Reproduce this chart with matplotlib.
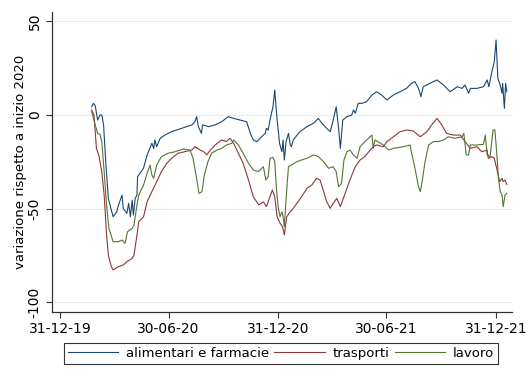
import pandas as pd
import matplotlib
matplotlib.use("Agg")
import matplotlib.pyplot as plt

# alimentari e farmacie
date_alim = ["2020-02-22", "2020-02-25", "2020-02-28", "2020-03-03", "2020-03-07", "2020-03-10",
             "2020-03-13", "2020-03-17", "2020-03-21", "2020-03-29", "2020-04-04", "2020-04-07",
             "2020-04-13", "2020-04-15", "2020-04-21", "2020-04-24", "2020-04-27", "2020-04-30",
             "2020-05-02", "2020-05-05", "2020-05-08", "2020-05-09", "2020-05-13", "2020-05-19",
             "2020-05-25", "2020-06-02", "2020-06-05", "2020-06-07", "2020-06-10", "2020-06-16",
             "2020-06-24", "2020-07-05", "2020-07-22", "2020-08-08", "2020-08-13", "2020-08-16",
             "2020-08-19", "2020-08-24", "2020-08-26", "2020-09-05", "2020-09-16", "2020-09-27",
             "2020-10-08", "2020-10-17", "2020-10-28", "2020-11-08", "2020-11-14", "2020-11-19",
             "2020-11-25", "2020-12-03", "2020-12-09", "2020-12-11", "2020-12-14", "2020-12-17",
             "2020-12-22", "2020-12-25", "2020-12-28", "2021-01-02", "2021-01-06", "2021-01-08",
             "2021-01-10", "2021-01-13", "2021-01-17", "2021-01-20", "2021-01-22", "2021-01-25",
             "2021-02-05", "2021-02-17", "2021-02-28", "2021-03-08", "2021-03-14", "2021-03-22",
             "2021-03-28", "2021-04-02", "2021-04-07", "2021-04-11", "2021-04-14", "2021-04-18",
             "2021-04-25", "2021-05-03", "2021-05-06", "2021-05-09", "2021-05-14", "2021-05-20",
             "2021-05-28", "2021-06-06", "2021-06-10", "2021-06-14", "2021-06-22", "2021-07-01",
             "2021-07-12", "2021-07-23", "2021-08-03", "2021-08-11", "2021-08-17", "2021-08-23",
             "2021-08-27", "2021-08-31", "2021-09-11", "2021-09-23", "2021-10-04", "2021-10-15",
             "2021-10-27", "2021-11-04", "2021-11-09", "2021-11-15", "2021-11-18", "2021-11-29",
             "2021-12-10", "2021-12-16", "2021-12-19", "2021-12-24", "2021-12-28", "2021-12-31",
             "2022-01-03", "2022-01-07", "2022-01-10", "2022-01-11", "2022-01-14", "2022-01-16",
             "2022-01-18"]
alimentari = [4.4, 6.2, 5.0, -2.7, 0.0, 0.0,
              -5.3, -26.7, -44.5, -54.3, -51.6, -48.0,
              -42.7, -49.8, -52.5, -47.1, -54.3, -45.4,
              -53.4, -44.5, -42.7, -32.9, -31.1, -28.4,
              -21.3, -15.1, -17.8, -13.3, -16.9, -12.4,
              -10.7, -8.9, -7.1, -5.3, -3.6, -0.9,
              -6.2, -9.8, -5.3, -6.2, -5.3, -3.6,
              -0.9, -1.8, -2.7, -3.6, -9.8, -13.3,
              -14.2, -11.6, -9.8, -7.1, -8.0, -2.7,
              4.4, 13.3, 0.9, -15.1, -19.6, -13.3,
              -24.0, -14.2, -9.8, -16.0, -16.9, -13.3,
              -8.9, -6.2, -4.4, -1.8, -4.4, -7.1,
              -8.9, -2.7, 4.4, -7.1, -17.8, -2.7,
              -0.9, 0.0, 2.7, 0.9, 6.2, 6.2,
              7.1, 10.7, 11.6, 12.4, 10.7, 8.0,
              10.7, 12.4, 14.2, 16.9, 17.8, 14.2,
              9.8, 15.1, 16.9, 18.7, 16.0, 12.4,
              15.1, 14.2, 16.0, 11.6, 14.2, 14.2,
              15.1, 18.7, 15.1, 23.1, 28.4, 40.0,
              19.6, 16.0, 11.6, 16.9, 3.6, 16.9,
              12.4]

# trasporti
date_trasp = ["2020-02-22", "2020-02-26", "2020-03-01", "2020-03-05", "2020-03-10", "2020-03-14",
              "2020-03-18", "2020-03-21", "2020-03-26", "2020-03-29", "2020-04-07", "2020-04-15",
              "2020-04-21", "2020-04-30", "2020-05-03", "2020-05-08", "2020-05-11", "2020-05-19",
              "2020-05-25", "2020-06-02", "2020-06-10", "2020-06-18", "2020-06-27", "2020-07-05",
              "2020-07-16", "2020-07-27", "2020-08-08", "2020-08-13", "2020-08-22", "2020-08-28",
              "2020-09-02", "2020-09-08", "2020-09-16", "2020-09-27", "2020-10-05", "2020-10-11",
              "2020-10-17", "2020-10-25", "2020-11-02", "2020-11-11", "2020-11-19", "2020-11-28",
              "2020-12-06", "2020-12-11", "2020-12-17", "2020-12-21", "2020-12-25", "2020-12-29",
              "2021-01-03", "2021-01-07", "2021-01-10", "2021-01-14", "2021-01-20", "2021-01-25",
              "2021-01-31", "2021-02-08", "2021-02-17", "2021-02-25", "2021-03-05", "2021-03-11",
              "2021-03-17", "2021-03-22", "2021-03-28", "2021-04-02", "2021-04-08", "2021-04-14",
              "2021-04-22", "2021-04-30", "2021-05-09", "2021-05-17", "2021-05-25", "2021-06-03",
              "2021-06-08", "2021-06-14", "2021-06-25", "2021-07-01", "2021-07-12", "2021-07-23",
              "2021-08-03", "2021-08-14", "2021-08-26", "2021-09-06", "2021-09-14", "2021-09-23",
              "2021-10-01", "2021-10-09", "2021-10-20", "2021-11-01", "2021-11-09", "2021-11-18",
              "2021-11-29", "2021-12-07", "2021-12-16", "2021-12-18", "2021-12-24", "2021-12-28",
              "2022-01-01", "2022-01-06", "2022-01-10", "2022-01-12", "2022-01-15", "2022-01-18"]
trasporti = [2.7, 0.0, -17.8, -21.3, -30.2, -42.7,
             -64.0, -74.7, -80.9, -82.7, -80.9, -80.0,
             -78.3, -76.5, -74.7, -64.0, -56.9, -54.3,
             -46.3, -40.9, -35.6, -30.2, -25.8, -23.1,
             -20.4, -19.6, -18.7, -16.9, -18.7, -19.6,
             -21.3, -18.7, -16.0, -13.3, -14.2, -12.4,
             -15.1, -20.4, -25.8, -34.7, -43.6, -48.0,
             -46.3, -48.9, -43.6, -40.0, -43.6, -54.3,
             -57.8, -59.6, -64.0, -54.3, -51.6, -49.8,
             -47.1, -43.6, -39.1, -37.4, -33.8, -34.7,
             -40.9, -46.3, -49.8, -47.1, -44.5, -48.9,
             -41.8, -34.7, -27.6, -24.0, -22.2, -18.7,
             -16.9, -16.0, -16.9, -14.2, -11.6, -8.9,
             -8.0, -8.5, -11.6, -8.9, -5.3, -1.8,
             -5.3, -9.8, -10.7, -10.7, -14.2, -17.8,
             -16.9, -19.6, -18.7, -23.1, -22.2, -23.1,
             -28.4, -35.6, -33.8, -35.6, -34.7, -37.0]

# lavoro
date_lavoro = ["2020-02-22", "2020-02-28", "2020-03-03", "2020-03-07", "2020-03-10", "2020-03-14",
               "2020-03-18", "2020-03-22", "2020-03-29", "2020-04-07", "2020-04-13", "2020-04-18",
               "2020-04-22", "2020-04-30", "2020-05-03", "2020-05-08", "2020-05-11", "2020-05-19",
               "2020-05-25", "2020-05-30", "2020-06-02", "2020-06-05", "2020-06-10", "2020-06-18",
               "2020-06-29", "2020-07-11", "2020-07-25", "2020-08-05", "2020-08-10", "2020-08-16",
               "2020-08-20", "2020-08-25", "2020-08-29", "2020-09-04", "2020-09-10", "2020-09-19",
               "2020-09-27", "2020-10-05", "2020-10-14", "2020-10-17", "2020-10-25", "2020-11-02",
               "2020-11-11", "2020-11-19", "2020-11-28", "2020-12-03", "2020-12-06", "2020-12-10",
               "2020-12-14", "2020-12-17", "2020-12-22", "2020-12-25", "2020-12-28", "2020-12-31",
               "2021-01-03", "2021-01-06", "2021-01-08", "2021-01-10", "2021-01-14", "2021-01-17",
               "2021-01-22", "2021-01-31", "2021-02-08", "2021-02-17", "2021-02-28", "2021-03-08",
               "2021-03-17", "2021-03-25", "2021-04-02", "2021-04-07", "2021-04-11", "2021-04-16",
               "2021-04-20", "2021-04-25", "2021-04-30", "2021-05-06", "2021-05-12", "2021-05-17",
               "2021-05-25", "2021-06-06", "2021-06-08", "2021-06-11", "2021-06-25", "2021-07-04",
               "2021-07-12", "2021-07-29", "2021-08-09", "2021-08-11", "2021-08-17", "2021-08-23",
               "2021-08-26", "2021-08-29", "2021-09-03", "2021-09-09", "2021-09-17", "2021-09-25",
               "2021-10-04", "2021-10-12", "2021-10-23", "2021-11-04", "2021-11-07", "2021-11-11",
               "2021-11-15", "2021-11-18", "2021-11-29", "2021-12-10", "2021-12-13", "2021-12-16",
               "2021-12-21", "2021-12-26", "2021-12-29", "2022-01-01", "2022-01-04", "2022-01-07",
               "2022-01-10", "2022-01-12", "2022-01-15", "2022-01-18"]
lavoro = [1.8, -5.3, -9.8, -10.3, -14.2, -30.2,
          -48.0, -60.5, -67.6, -67.6, -66.7, -68.5,
          -62.3, -60.5, -58.7, -48.0, -42.7, -37.4,
          -31.1, -26.7, -32.0, -33.8, -26.7, -22.2,
          -20.4, -19.6, -18.1, -18.7, -23.1, -33.8,
          -41.8, -40.9, -32.0, -24.9, -20.4, -18.7,
          -17.8, -16.0, -15.1, -13.3, -16.0, -20.4,
          -25.8, -29.3, -30.2, -28.4, -27.6, -34.7,
          -32.9, -23.1, -22.6, -24.9, -40.0, -49.8,
          -54.3, -51.6, -54.3, -59.6, -40.0, -27.6,
          -26.7, -24.9, -24.0, -23.1, -21.3, -22.2,
          -24.9, -28.4, -27.6, -30.2, -38.3, -36.4,
          -24.0, -19.6, -18.7, -21.3, -23.1, -16.9,
          -14.2, -10.7, -17.8, -13.3, -16.0, -18.7,
          -17.8, -16.9, -16.0, -19.6, -28.4, -38.3,
          -40.9, -35.6, -24.9, -16.0, -14.2, -14.2,
          -13.3, -11.6, -12.4, -11.6, -9.8, -21.3,
          -21.3, -16.0, -16.0, -15.6, -10.7, -21.3,
          -22.2, -8.0, -8.0, -19.6, -33.8, -40.9,
          -42.7, -48.9, -42.7, -41.8]

tick_dates = ["2019-12-31", "2020-06-30", "2020-12-31", "2021-06-30", "2021-12-31"]
tick_labels = ["31-12-19", "30-06-20", "31-12-20", "30-06-21", "31-12-21"]

fig = plt.figure(figsize=(5.28, 3.84), dpi=100)
ax = fig.add_axes([0.099, 0.188, 0.871, 0.781])

ax.plot(pd.to_datetime(date_alim), alimentari, color="#1a476f", lw=0.8, label="alimentari e farmacie")
ax.plot(pd.to_datetime(date_trasp), trasporti, color="#90353b", lw=0.8, label="trasporti")
ax.plot(pd.to_datetime(date_lavoro), lavoro, color="#55752f", lw=0.8, label="lavoro")

ax.set_xlim(pd.Timestamp("2019-12-18"), pd.Timestamp("2022-01-27"))
ax.set_ylim(-105, 55)
ax.set_xticks(pd.to_datetime(tick_dates))
ax.set_xticklabels(tick_labels)
ax.set_yticks([-100, -50, 0, 50])
ax.set_yticklabels(["-100", "-50", "0", "50"], rotation=90, va="center")
ax.tick_params(labelsize=10, length=4, width=0.8, color="#333333")
ax.grid(axis="y", color="#eaeaea", lw=0.8)
ax.set_axisbelow(True)
for s in ["top", "right"]:
    ax.spines[s].set_visible(False)
for s in ["left", "bottom"]:
    ax.spines[s].set_color("#333333")
    ax.spines[s].set_linewidth(0.9)
ax.set_ylabel("variazione rispetto a inizio 2020", fontsize=9.5)
ax.yaxis.set_label_coords(-0.056, 0.5)

leg = fig.legend(loc="center", bbox_to_anchor=(0.532, 0.08), ncol=3, fontsize=9.5,
                 frameon=True, fancybox=False, edgecolor="black", handlelength=3.8,
                 columnspacing=0.4, handletextpad=0.6, borderpad=0.3, borderaxespad=0)
leg.get_frame().set_linewidth(0.8)

plt.savefig("out.png", dpi=100)
